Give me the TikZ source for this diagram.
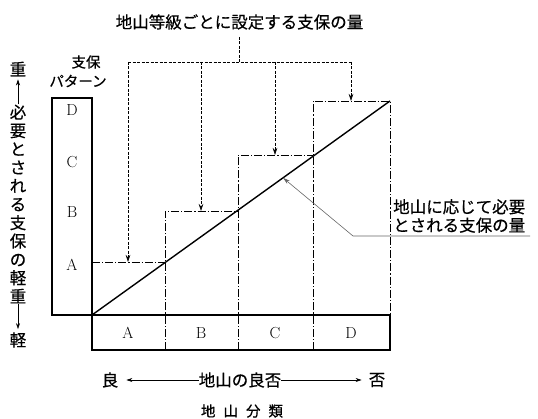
\documentclass[tikz,border=0pt]{standalone}
\usepackage{fontspec}
\newfontfamily\jpfont[FakeBold=0.5]{Noto Sans CJK JP}
\usetikzlibrary{arrows.meta, calc, positioning}

\begin{document}
\begin{tikzpicture}[
    x=1pt, y=-1pt,
    every node/.style={inner sep=0pt},
    jp/.style={font=\jpfont\fontsize{16.5}{18.4}\selectfont, align=center},
    jpsmall/.style={font=\jpfont\fontsize{14.5}{18}\selectfont, align=center},
    letter/.style={font=\fontsize{16}{18}\selectfont},
    frame/.style={draw, line width=1.2pt},
    stepline/.style={draw, line width=0.6pt, dash pattern=on 8pt off 2pt on 1.2pt off 2pt},
    feed/.style={draw, line width=0.6pt, dash pattern=on 3pt off 1.5pt},
    feedarrow/.style={feed, -{Stealth[length=7pt, width=4.5pt]}},
    lead/.style={draw=black!60, line width=0.6pt, -{Stealth[length=7pt, width=4pt]}},
    axisarrow/.style={draw, line width=0.6pt, -{Stealth[length=6pt, width=4pt]}}
]
\useasboundingbox (0,0) rectangle (538,419);

\coordinate (o) at (92,315);
\coordinate (top) at (390,101);
\coordinate (sA) at (92,262);
\coordinate (sB) at (165,211);
\coordinate (sC) at (238,155);
\coordinate (sD) at (313,101);

\draw[frame] (52,98) rectangle (o);
\draw[frame] (o) rectangle (390,350);

\draw[stepline] (sA) -- (165,262);
\draw[stepline] (165,350) -- (sB) -- (238,211);
\draw[stepline] (238,350) -- (sC) -- (313,155);
\draw[stepline] (313,350) -- (sD) -- (top) -- (390,315);

\draw[line width=1.4pt] (o) -- (top);

\foreach \n/\x in {A/128,B/201,C/275,D/351}
    \node[letter] (col\n) at (\x,333) {\n};
\foreach \n/\y in {D/110,C/162,B/212,A/265}
    \node[letter] (pat\n) at (72,\y) {\n};

\node[jpsmall] (pattitle) at (86,62) {支保};
\node[jpsmall] (pattitle2) at (78,81) {パターン};

\node[jp] (toplab) at (239.5,22) {地山等級ごとに設定する支保の量};
\coordinate (fA) at (128,62);
\coordinate (fB) at (201,62);
\coordinate (fC) at (275,62);
\coordinate (fD) at (351,62);
\draw[feed] ([yshift=-7pt]toplab.south) -- (toplab.south |- fA);
\draw[feed] (fA) -- (fD);
\foreach \c/\s in {fA/sA, fB/sB, fC/sC, fD/sD}
    \draw[feedarrow] (\c) -- (\c |- \s);

\node[jp, align=left, anchor=west] (needlab) at (393,216) {地山に応じて必要\\とされる支保の量};
\coordinate (tip) at ($(o)!0.641!(top)$);
\coordinate (bend) at (353,236);
\coordinate (uend) at (530,236);
\draw[lead] (uend) -- (bend) -- (tip);

\node[jp] (heavy) at (18,69) {重};
\node[jp] (axislab) at (18,204) {必\\要\\と\\さ\\れ\\る\\支\\保\\の\\軽\\重};
\node[jp] (light) at (18,340) {軽};
\draw[axisarrow, shorten >=3pt] (axislab.north) -- (heavy.south);
\draw[axisarrow, shorten >=3pt] (axislab.south) -- (light.north);

\node[jp] (quality) at (240,380) {地山の良否};
\node[jp] (good) at (110,380) {良};
\node[jp] (poor) at (377,380) {否};
\draw[axisarrow, shorten >=8pt] (quality.west) -- (good.east);
\draw[axisarrow, shorten >=7pt] (quality.east) -- (poor.west);

\node[jpsmall] (classlab) at (242,411) {地\hspace{8pt}山\hspace{8pt}分\hspace{8pt}類};
\end{tikzpicture}
\end{document}
